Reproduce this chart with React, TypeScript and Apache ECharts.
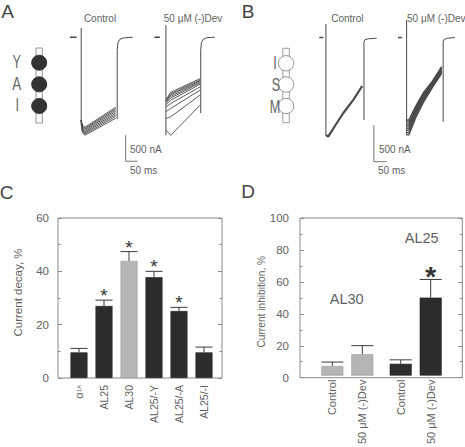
import React, { useEffect, useRef } from 'react';
import * as echarts from 'echarts';

// ---------- Panel C: current decay ----------
const decayCategories = ['α1A', 'AL25', 'AL30', 'AL25/-Y', 'AL25/-A', 'AL25/-I'];
const decayMeans = [9.6, 27.0, 43.9, 37.8, 25.1, 9.6];
const decayErrors = [1.5, 2.2, 3.5, 2.2, 1.4, 2.0];
const decaySignificant = [false, true, true, true, true, false];
const decayLight = [false, false, true, false, false, false];

// ---------- Panel D: current inhibition ----------
const inhibitionCategories = ['Control', '50 μM (-)Dev'];
const al30Means = [6.1, 13.6];
const al30Errors = [2.5, 5.4];
const al30Significant = [false, false];
const al25Means = [7.5, 49.5];
const al25Errors = [2.5, 11.5];
const al25Significant = [false, true];

// ---------- Panel A: current traces (ms, nA) ----------
const aCtrlHolding = [[58, 0], [86, 0]];
const aCtrlArtifact = [[105, 175], [105, -1700]];
const aCtrlKnee = [-1690, -1712, -1730, -1752, -1774, -1795, -1818, -1840]; // t = 110 ms
const aCtrlTrough = [-1730, -1752, -1771, -1793, -1816, -1838, -1862, -1885]; // t = 121 ms
const aCtrlEnd = [-1346, -1372, -1401, -1428, -1460, -1490, -1522, -1558]; // t = 249 ms
const aCtrlTail = [[255, -1577], [255, -250], [258, -110], [265, -45], [280, -15], [320, 0]];

const aDevHolding = [[410, 0], [433, 0]];
const aDevArtifact = [[458, 235], [458, -1885]];
const aDevPeak = [-1800, -1560, -1425, -1335, -1285, -1250, -1228, -1210, -1196, -1185]; // t = 461 ms
const aDevPlateau = [-1885, -1530, -1370, -1275, -1212, -1170, -1140, -1110, -1086, -1060]; // t = 478 ms
const aDevEnd = [-1308, -1115, -1019, -956, -905, -880, -858, -838, -818, -797]; // t = 600 ms
const aDevTail = [[603, -1460], [603, -250], [606, -110], [613, -45], [628, -10], [662, 0]];
const aScaleBar = [[290, -1885], [290, -2385], [340, -2385]];

// ---------- Panel B: current traces (ms, nA) ----------
const bCtrlHolding = [[76, 0], [92, 0]];
const bCtrlArtifact = [[102, 184], [102, -1328]];
const bCtrlTrace = [[102, -1328], [111, -1351], [140, -1192], [170, -1032], [210, -851], [245, -661]];
const bCtrlTail = [[252, -1124], [252, -60], [256, -30], [269, -18], [302, -10]];

const bDevHolding = [[386, 0], [402, 0]];
const bDevArtifact = [[420, 238], [420, -1328]];
const bDevTrough = [-1124, -1150, -1180, -1208, -1236, -1262, -1296, -1328]; // t = 429 ms
const bDev455 = [-942, -962, -985, -1008, -1030, -1052, -1077, -1100];
const bDev485 = [-756, -775, -794, -812, -832, -851, -872, -892];
const bDev520 = [-602, -614, -627, -640, -653, -666, -679, -692];
const bDevEnd = [-398, -411, -424, -437, -450, -462, -475, -488]; // t = 558 ms
const bDevTail = [[564, -1147], [564, -60], [567, -30], [578, -12], [610, 0]];
const bScaleBar = [[291, -1192], [291, -1692], [341, -1692]];

const FONT = '"Liberation Sans", Arial, sans-serif';
const TXT = '#5f5f5f';
const AXIS = '#8a8a8a';
const TRACE = '#4a4a4a';
const DARK = '#2c2c2c';
const LIGHT = '#b5b5b5';

function line(xi: number, yi: number, data: number[][], width = 1, color = TRACE) {
  return {
    type: 'line', xAxisIndex: xi, yAxisIndex: yi, data, symbol: 'none', showSymbol: false,
    lineStyle: { width, color }, silent: true, z: 3,
  };
}

function errorSeries(xi: number, yi: number, means: number[], errs: number[], sig: boolean[],
  capHalf: number, starSize: number, starWeight: string, starLift: number) {
  return {
    type: 'custom', xAxisIndex: xi, yAxisIndex: yi, z: 5, silent: true,
    data: means.map((m, i) => [i, m, errs[i], sig[i] ? 1 : 0]),
    renderItem: (_p: any, api: any) => {
      const i = api.value(0), m = api.value(1), e = api.value(2), s = api.value(3);
      const base = api.coord([i, m]);
      const top = api.coord([i, m + e]);
      const st = { stroke: '#3a3a3a', lineWidth: 1 };
      const children: any[] = [
        { type: 'line', shape: { x1: base[0], y1: base[1], x2: top[0], y2: top[1] }, style: st },
        { type: 'line', shape: { x1: top[0] - capHalf, y1: top[1], x2: top[0] + capHalf, y2: top[1] }, style: st },
      ];
      if (s) {
        children.push({
          type: 'text', x: top[0], y: top[1] - starLift,
          style: { text: '*', fontSize: starSize, fontWeight: starWeight, fontFamily: FONT, fill: '#333', align: 'center', verticalAlign: 'middle' },
        });
      }
      return { type: 'group', children };
    },
  };
}

function txt(text: string, x: number, y: number, size: number, opts: any = {}) {
  return {
    type: 'text', x, y, rotation: opts.rotation || 0, scaleX: opts.scaleX || 1, silent: true,
    style: { text, fontSize: size, fontFamily: FONT, fill: opts.color || TXT, align: opts.align || 'center', verticalAlign: 'middle', fontWeight: opts.weight || 'normal' },
  };
}

export default function App() {
  const ref = useRef<HTMLDivElement>(null);
  useEffect(() => {
    if (!ref.current) return;
    const chart = echarts.init(ref.current, undefined, { renderer: 'svg' });

    const hiddenVal = (min: number, max: number, gi: number) => ({ type: 'value', gridIndex: gi, min, max, show: false });
    const frameY = (gi: number, max: number, pos: string, labels: boolean, size: number, margin: number) => ({
      type: 'value', gridIndex: gi, min: 0, max, interval: 20, position: pos,
      axisLine: { show: false }, splitLine: { show: false },
      axisTick: { show: true, inside: true, length: 4, lineStyle: { color: AXIS } },
      minorTick: { show: true, splitNumber: 2, length: 2.5, lineStyle: { color: AXIS } },
      axisLabel: { show: labels, fontSize: size, color: TXT, fontFamily: FONT, margin },
    });
    const catX = (gi: number, cats: string[], size: number, margin: number, rich?: boolean) => ({
      type: 'category', gridIndex: gi, data: cats, boundaryGap: true,
      axisLine: { show: false }, axisTick: { show: false },
      axisLabel: {
        interval: 0, rotate: 90, fontSize: size, color: TXT, fontFamily: FONT, margin,
        formatter: rich ? (v: string) => (v === 'α1A' ? '{g|α}{s|1A}' : v) : undefined,
        rich: rich ? { g: { fontSize: size + 0.5, color: TXT, fontFamily: FONT }, s: { fontSize: 6, color: TXT, fontFamily: FONT } } : undefined,
      },
    });

    const series: any[] = [];
    // Panel A
    series.push(line(0, 0, aCtrlHolding, 1.5), line(0, 0, aCtrlArtifact), line(0, 0, aCtrlTail));
    aCtrlTrough.forEach((tr, i) => {
      series.push(line(0, 0, [[105, -1600], [110, aCtrlKnee[i]], [121, tr], [249, aCtrlEnd[i]]], 0.9));
    });
    series.push(line(0, 0, aDevHolding, 1.5), line(0, 0, aDevArtifact), line(0, 0, aDevTail));
    aDevPeak.forEach((pk, i) => {
      series.push(line(0, 0, [[458, pk], [461, pk], [478, aDevPlateau[i]], [600, aDevEnd[i]]], 0.9));
    });
    series.push(line(0, 0, aScaleBar, 1, '#777'));
    // Panel B
    series.push(line(1, 1, bCtrlHolding, 1.5), line(1, 1, bCtrlArtifact), line(1, 1, bCtrlTrace, 2.2), line(1, 1, bCtrlTail));
    series.push(line(1, 1, bDevHolding, 1.5), line(1, 1, bDevArtifact), line(1, 1, bDevTail));
    bDevTrough.forEach((tr, i) => {
      series.push(line(1, 1, [[420, tr], [429, tr], [455, bDev455[i]], [485, bDev485[i]], [520, bDev520[i]], [558, bDevEnd[i]]], 1.3));
    });
    series.push(line(1, 1, bScaleBar, 1, '#777'));
    // Panel C
    series.push({
      type: 'bar', xAxisIndex: 3, yAxisIndex: 4, barWidth: 17, silent: true, z: 2,
      data: decayMeans.map((v, i) => ({ value: v, itemStyle: { color: decayLight[i] ? LIGHT : DARK, borderColor: decayLight[i] ? '#9a9a9a' : '#222', borderWidth: 0.6 } })),
    });
    series.push(errorSeries(3, 4, decayMeans, decayErrors, decaySignificant, 8.5, 19, 'normal', 4.5));
    // Panel D
    series.push({
      type: 'bar', xAxisIndex: 5, yAxisIndex: 7, barWidth: 22, silent: true, z: 2,
      data: al30Means, itemStyle: { color: LIGHT, borderColor: '#9a9a9a', borderWidth: 0.6 },
    });
    series.push(errorSeries(5, 7, al30Means, al30Errors, al30Significant, 11, 28, 'bold', 3));
    series.push({
      type: 'bar', xAxisIndex: 6, yAxisIndex: 8, barWidth: 22, silent: true, z: 2,
      data: al25Means, itemStyle: { color: DARK, borderColor: '#222', borderWidth: 0.6 },
    });
    series.push(errorSeries(6, 8, al25Means, al25Errors, al25Significant, 11, 28, 'bold', 3));

    const frame = { show: true, borderColor: AXIS, borderWidth: 1, backgroundColor: 'transparent' };

    const graphic: any[] = [
      // panel letters
      txt('A', 7.5, 11.7, 19, { color: '#444' }),
      txt('B', 248, 11.7, 19, { color: '#444' }),
      txt('C', 6.5, 192.5, 19, { color: '#444' }),
      txt('D', 248, 191.5, 19, { color: '#444' }),
      // trace headers
      txt('Control', 100, 18, 10),
      txt('50 μM (-)Dev', 193, 18, 10),
      txt('Control', 347.3, 18.3, 10),
      txt('50 μM (-)Dev', 407, 18.3, 10, { align: 'left' }),
      // scale bar labels
      txt('500 nA', 130, 149, 10, { align: 'left' }),
      txt('50 ms', 130, 170, 10, { align: 'left' }),
      txt('500 nA', 379, 149.3, 10, { align: 'left' }),
      txt('50 ms', 378, 170, 10, { align: 'left' }),
      // channel diagram A
      { type: 'rect', silent: true, shape: { x: 36, y: 48, width: 6.3, height: 75 }, style: { fill: '#fff', stroke: '#777', lineWidth: 0.8 } },
      { type: 'circle', silent: true, shape: { cx: 39.2, cy: 62.7, r: 7.5 }, style: { fill: '#333', stroke: '#333' } },
      { type: 'circle', silent: true, shape: { cx: 39.2, cy: 84.3, r: 7.5 }, style: { fill: '#333', stroke: '#333' } },
      { type: 'circle', silent: true, shape: { cx: 39.2, cy: 106, r: 7.5 }, style: { fill: '#333', stroke: '#333' } },
      txt('Y', 16.7, 61.7, 18, { scaleX: 0.7, color: '#666' }),
      txt('A', 16.7, 83.5, 18, { scaleX: 0.75, color: '#666' }),
      txt('I', 17.3, 105, 18, { scaleX: 0.7, color: '#666' }),
      // channel diagram B
      { type: 'rect', silent: true, shape: { x: 282.8, y: 48.3, width: 6.5, height: 74.4 }, style: { fill: '#fff', stroke: '#888', lineWidth: 0.8 } },
      { type: 'circle', silent: true, shape: { cx: 286.1, cy: 63.3, r: 7.7 }, style: { fill: '#fff', stroke: '#888', lineWidth: 0.9 } },
      { type: 'circle', silent: true, shape: { cx: 286.1, cy: 84.5, r: 7.7 }, style: { fill: '#fff', stroke: '#888', lineWidth: 0.9 } },
      { type: 'circle', silent: true, shape: { cx: 286.1, cy: 106, r: 7.7 }, style: { fill: '#fff', stroke: '#888', lineWidth: 0.9 } },
      txt('I', 275, 63, 18, { scaleX: 0.7, color: '#666' }),
      txt('S', 276, 85, 18, { scaleX: 0.7, color: '#666' }),
      txt('M', 275, 106.3, 18, { scaleX: 0.7, color: '#666' }),
      // axis titles
      txt('Current decay, %', 17.5, 292.5, 11.5, { rotation: Math.PI / 2 }),
      txt('Current inhibition, %', 261, 301.7, 10.2, { rotation: Math.PI / 2 }),
      // panel D group labels
      txt('AL30', 346.7, 299, 14.5),
      txt('AL25', 421.7, 238, 14.5),
    ];

    chart.setOption({
      animation: false,
      backgroundColor: '#fff',
      grid: [
        { left: 56, top: 6, width: 168, height: 156 },
        { left: 300, top: 8.1, width: 165.1, height: 176.2 },
        { left: 58, top: 218, width: 164, height: 160, ...frame },
        { left: 66.5, top: 218, width: 150, height: 160 },
        { left: 300, top: 218, width: 162.3, height: 159.7, ...frame },
        { left: 317.3, top: 218, width: 60, height: 159.7 },
        { left: 385.7, top: 218, width: 60, height: 159.7 },
      ],
      xAxis: [
        hiddenVal(0, 700, 0),
        hiddenVal(0, 650, 1),
        hiddenVal(0, 1, 2),
        catX(3, decayCategories, 10.5, 7, true),
        hiddenVal(0, 1, 4),
        catX(5, inhibitionCategories, 11, 4),
        catX(6, inhibitionCategories, 11, 4),
      ],
      yAxis: [
        hiddenVal(-2400, 600, 0),
        hiddenVal(-2000, 400, 1),
        frameY(2, 60, 'left', true, 11.5, 9),
        frameY(2, 60, 'right', false, 11.5, 9),
        hiddenVal(0, 60, 3),
        frameY(4, 100, 'left', true, 11.5, 11),
        frameY(4, 100, 'right', false, 11.5, 11),
        hiddenVal(0, 100, 5),
        hiddenVal(0, 100, 6),
      ],
      series,
      graphic,
    });
    return () => chart.dispose();
  }, []);
  return <div ref={ref} style={{ position: 'absolute', left: 0, top: 0, width: 465, height: 447, background: '#fff' }} />;
}
